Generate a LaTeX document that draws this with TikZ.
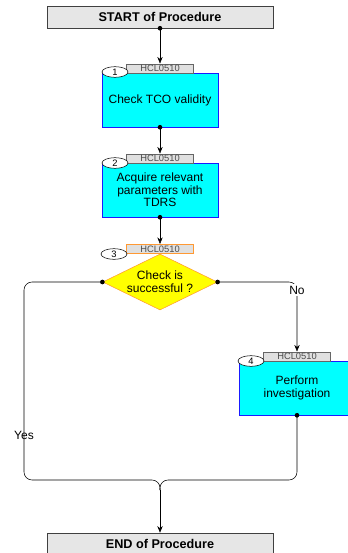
\documentclass[tikz,border=0pt]{standalone}
\usepackage{fontspec}
\setmainfont{Liberation Sans}
\usetikzlibrary{shapes.geometric,arrows.meta}
\definecolor{termgray}{HTML}{E6E6E6}
\definecolor{taggray}{HTML}{E0E0E0}
\definecolor{taskcyan}{HTML}{00FFFF}
\definecolor{taskblue}{HTML}{1A1AFF}
\definecolor{decyellow}{HTML}{FFFF00}
\definecolor{decorange}{HTML}{FF9933}
\begin{document}
\begin{tikzpicture}[x=0.75pt,y=-0.75pt,
    every node/.style={font=\fontsize{9}{9.5}\selectfont},
    term/.style={draw=black!75, fill=termgray, minimum width=169.5pt, minimum height=16.5pt, inner sep=0pt, font=\fontsize{9.5}{11}\selectfont\bfseries},
    task/.style={draw=taskblue, fill=taskcyan, align=center, minimum width=87pt, minimum height=40.5pt, inner sep=1pt},
    tag/.style={draw=black!60, fill=taggray, minimum width=50pt, minimum height=7pt, inner sep=0pt, text=black!70, font=\fontsize{7}{7}\selectfont},
    num/.style={ellipse, draw, fill=white, minimum width=19.5pt, minimum height=8pt, inner sep=0pt, font=\fontsize{7}{7}\selectfont},
    decision/.style={diamond, draw=decorange, fill=decyellow, minimum width=86pt, minimum height=42pt, inner sep=0pt},
    dot/.style={circle, fill, inner sep=0pt, minimum size=3.5pt},
    flow/.style={-{Stealth[length=5pt,width=4pt]}}]
        \useasboundingbox (0,0) rectangle (347,553);
        \node[term] at (160,17) (start) {START of Procedure};
        \node[term] at (160,544) (end) {END of Procedure};
        \node[task] at (160,100) (tco) {Check TCO validity};
        \node[tag] at (160,68.5) (tag1) {HCL0510};
        \node[num] at (115,72) (n1) {1};
        \node[task] at (160,190) (tdrs) {Acquire relevant\\parameters with\\TDRS};
        \node[tag] at (160,158.5) (tag2) {HCL0510};
        \node[num] at (115,163) (n2) {2};
        \node[decision] at (160,282) (chk) {};
        \node[align=center] at (chk) {Check is\\successful ?};
        \node[tag, draw=decorange] at (160,249) (tag3) {HCL0510};
        \node[num] at (114,254) (n3) {3};
        \node[task] at (297,388) (inv) {Perform\\investigation};
        \node[tag] at (297,356.5) (tag4) {HCL0510};
        \node[num] at (251,361) (n4) {4};
        \coordinate (jn) at (160,480);
        \coordinate (mrg) at (160,490);
        \draw[flow] (start.south) -- (tag1.north);
        \draw[flow] (tco.south) -- (tag2.north);
        \draw[flow] (tdrs.south) -- (tag3.north);
        \draw[flow, rounded corners=6] (chk.east) -| (tag4.north);
        \draw[rounded corners=6] (chk.west) -| (24,480) -- (jn) -- (mrg);
        \draw[rounded corners=6] (inv.south) |- (jn) -- (mrg);
        \draw[flow] (mrg) -- (end.north);
        \node[fill=white, inner sep=1pt] at (297,290) (no) {No};
        \node at (24,435) (yes) {Yes};
        \node[dot] at (start.south) {};
        \node[dot] at (tco.south) {};
        \node[dot] at (tdrs.south) {};
        \node[dot] at (chk.west) {};
        \node[dot] at (chk.east) {};
        \node[dot] at (inv.south) {};
    \end{tikzpicture}
\end{document}
